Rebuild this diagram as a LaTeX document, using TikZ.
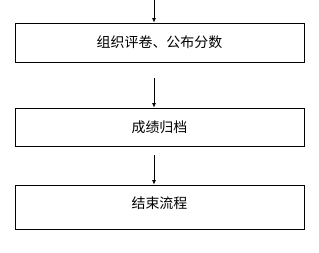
\documentclass[tikz,border=0pt]{standalone}
\usepackage{fontspec}
\usepackage{tikz}
\usetikzlibrary{arrows.meta,calc}
\newfontfamily\cjk{Noto Sans CJK SC}
\tikzset{
  stepbox/.style={draw,line width=0.8pt,minimum width=289bp,inner sep=0pt,font=\cjk\fontsize{14}{15}\selectfont},
  flowarrow/.style={line width=0.8pt,-{Latex[length=4.5pt,width=4pt]}}
}

\begin{document}
\begin{tikzpicture}[x=1bp,y=-1bp]
  \useasboundingbox (0,0) rectangle (319,253);
  \node[stepbox,minimum height=39bp] (grade) at (159.5,42.5) {组织评卷、公布分数};
  \node[stepbox,minimum height=38bp] (archive) at (159.5,127) {成绩归档};
  \node[stepbox,minimum height=44bp,text depth=8bp] (finish) at (159.5,207) {结束流程};
  \coordinate (in1) at (154,0);
  \coordinate (in2) at (154,78);
  \coordinate (in3) at (154,155);
  \draw[flowarrow] (in1) -- (in1 |- grade.north);
  \draw[flowarrow] (in2) -- (in2 |- archive.north);
  \draw[flowarrow] (in3) -- (in3 |- finish.north);
\end{tikzpicture}
\end{document}
